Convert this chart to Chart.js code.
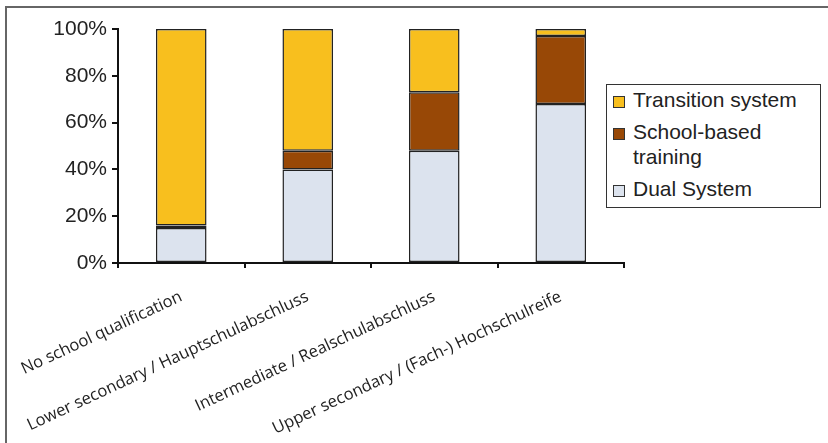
<!DOCTYPE html>
<html>
<head>
<meta charset="utf-8">
<script src="https://cdn.jsdelivr.net/npm/chart.js@4"></script>
<style>
    body { margin: 0; background: #fff; }
    #wrap { position: relative; width: 828px; height: 443px; overflow: hidden; }
    #frame { position: absolute; left: 5px; top: 6px; width: 900px; height: 600px;
        border-left: 2px solid #666; border-top: 2px solid #666; }
    #legend { position: absolute; left: 606px; top: 84px; width: 207px; height: 120px;
        border: 1px solid #333; padding: 2px 0 0 6px; background: #fff;
        font-family: "Liberation Sans", Arial, sans-serif; font-size: 21px; color: #222; }
    .item { position: relative; padding-left: 20px; line-height: 25px; margin-bottom: 7px; }
    .swatch { position: absolute; left: 0; top: 9px; width: 10px; height: 10px; border: 1px solid #333; }
</style>
</head>
<body>
<div id="wrap">
    <div id="frame"></div>
    <canvas id="chart" width="828" height="443"></canvas>
    <div id="legend"></div>
</div>
<script>
const categories = [
    'No school qualification',
    'Lower secondary / Hauptschulabschluss',
    'Intermediate / Realschulabschluss',
    'Upper secondary / (Fach-) Hochschulreife'
];
const dualSystem = [15, 40, 48, 68];
const schoolBased = [1, 8, 25, 29];
const transitionSystem = [84, 52, 27, 3];
const yTicks = [0, 20, 40, 60, 80, 100];

const chart = new Chart(document.getElementById('chart'), {
    type: 'bar',
    data: {
        labels: categories,
        datasets: [
            { label: 'Dual System', data: dualSystem, backgroundColor: '#dce3ee' },
            { label: 'School-based training', data: schoolBased, backgroundColor: '#984806' },
            { label: 'Transition system', data: transitionSystem, backgroundColor: '#f8bf1e' }
        ].map(ds => Object.assign(ds, {
            borderColor: '#222',
            borderWidth: 1.5,
            borderSkipped: false,
            barPercentage: 0.4,
            categoryPercentage: 1
        }))
    },
    options: {
        responsive: false,
        animation: false,
        layout: { padding: { left: 0, top: 29, right: 204, bottom: 0 } },
        plugins: {
            legend: { display: false },
            tooltip: { enabled: false }
        },
        scales: {
            x: {
                stacked: true,
                afterFit: s => {
                    s.height = 180;
                    // long slanted labels would otherwise push the plot to the right
                    s.paddingLeft = 0;
                    s.paddingRight = 0;
                },
                border: { color: '#111', width: 2 },
                grid: { offset: true, drawOnChartArea: false, color: '#111', lineWidth: 2, tickLength: 5 },
                ticks: {
                    autoSkip: false,
                    minRotation: 25,
                    maxRotation: 25,
                    padding: 19,
                    color: '#222',
                    font: { family: '"Open Sans", sans-serif', size: 16.5 }
                }
            },
            y: {
                stacked: true,
                min: 0,
                max: 100,
                afterFit: s => { s.width = 118; },
                afterBuildTicks: s => { s.ticks = yTicks.map(v => ({ value: v })); },
                border: { color: '#111', width: 2 },
                grid: { drawOnChartArea: false, color: '#111', lineWidth: 2, tickLength: 6 },
                ticks: {
                    padding: 5,
                    color: '#222',
                    font: { family: '"Liberation Sans", Arial, sans-serif', size: 21 },
                    callback: v => v + '%'
                }
            }
        }
    }
});

// legend in the original's order: top segment first
const legend = document.getElementById('legend');
chart.data.datasets.slice().reverse().forEach(ds => {
    const item = document.createElement('div');
    item.className = 'item';
    item.innerHTML = `<span class="swatch" style="background:${ds.backgroundColor}"></span>${ds.label}`;
    legend.appendChild(item);
});
</script>
</body>
</html>
